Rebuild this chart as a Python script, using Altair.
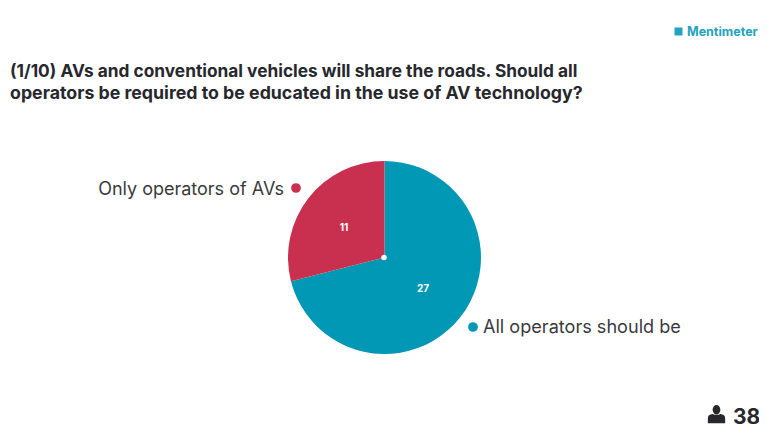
import altair as alt
import pandas as pd

categories = ["All operators should be", "Only operators of AVs"]
values = [27, 11]
total = "38"
colors = ["#0098B5", "#C9304F"]
title_lines = ["(1/10) AVs and conventional vehicles will share the roads. Should all",
               "operators be required to be educated in the use of AV technology?"]
M = 8
W, H = 751, 419
df = pd.DataFrame({"cat": categories, "v": values, "order": [0, 1], "c": colors})

xs = alt.Scale(domain=[M, M + W], range=[0, W], nice=False, zero=False)
ys = alt.Scale(domain=[M, M + H], range=[0, H], nice=False, zero=False)
FONT = "Inter"
X = alt.X("px:Q", scale=xs, axis=None)
Y = alt.Y("py:Q", scale=ys, axis=None)

def texts(rows, **kw):
    d = pd.DataFrame(rows, columns=["px", "py", "t"])
    return alt.Chart(d).mark_text(font=FONT, **kw).encode(x=X, y=Y, text="t:N")

def spot(rows, mark):
    return alt.Chart(pd.DataFrame(rows, columns=["px", "py"])).mark_point(**mark).encode(x=X, y=Y)

pie = alt.Chart(df).mark_arc(outerRadius=96.5).encode(
    theta=alt.Theta("v:Q", stack=True, scale=alt.Scale(domain=[0, 38], range=[0, 6.28318530718])),
    order=alt.Order("order:Q"),
    color=alt.Color("c:N", scale=None),
    x=alt.value(384.5 - M), y=alt.value(257.5 - M),
)
center = spot([(384, 257.5)], dict(shape="circle", size=30, filled=True, color="white", opacity=1))
dots = alt.Chart(pd.DataFrame({"px": [473, 296], "py": [327, 188], "c": colors})).mark_circle(size=95, opacity=1).encode(
    x=X, y=Y, color=alt.Color("c:N", scale=None))
person = spot([(716.5, 414.5)], dict(
    shape="M-0.45,-0.55 A0.45,0.55 0 1 1 0.45,-0.55 A0.45,0.55 0 1 1 -0.45,-0.55 Z "
          "M-1,1 L-1,0.45 Q-1,0 -0.45,-0.05 Q0,0.15 0.45,-0.05 Q1,0 1,0.45 L1,1 Z",
    size=300, filled=True, color="#27282E", opacity=1))
logo = spot([(678.5, 31.5)], dict(shape="square", size=64, filled=True, color="#1FA3BE", opacity=1))

chart = alt.layer(
    pie, center, dots, person, logo,
    texts([(10, 72, title_lines[0])], align="left", baseline="middle", fontSize=17.3, fontWeight="bold", color="#27282E"),
    texts([(10, 93.5, title_lines[1])], align="left", baseline="middle", fontSize=17.75, fontWeight="bold", color="#27282E"),
    texts([(483, 327.5, categories[0])], align="left", baseline="middle", fontSize=18.1, color="#3A3A3E"),
    texts([(284, 189.5, categories[1])], align="right", baseline="middle", fontSize=18, color="#3A3A3E"),
    texts([(423, 288.5, str(values[0])), (344, 228, str(values[1]))], align="center", baseline="middle",
          fontSize=10, fontWeight="bold", color="white"),
    texts([(687, 31.5, "Mentimeter")], align="left", baseline="middle", fontSize=12.5, fontWeight="bold", color="#1FA3BE"),
    texts([(733, 417.5, total)], align="left", baseline="middle", fontSize=21, fontWeight="bold", color="#27282E"),
).properties(width=W, height=H, padding=0, autosize=alt.AutoSizeParams(type="none")).configure_view(stroke=None)

chart.save("out.html", embed_options={"renderer": "svg", "actions": False})
